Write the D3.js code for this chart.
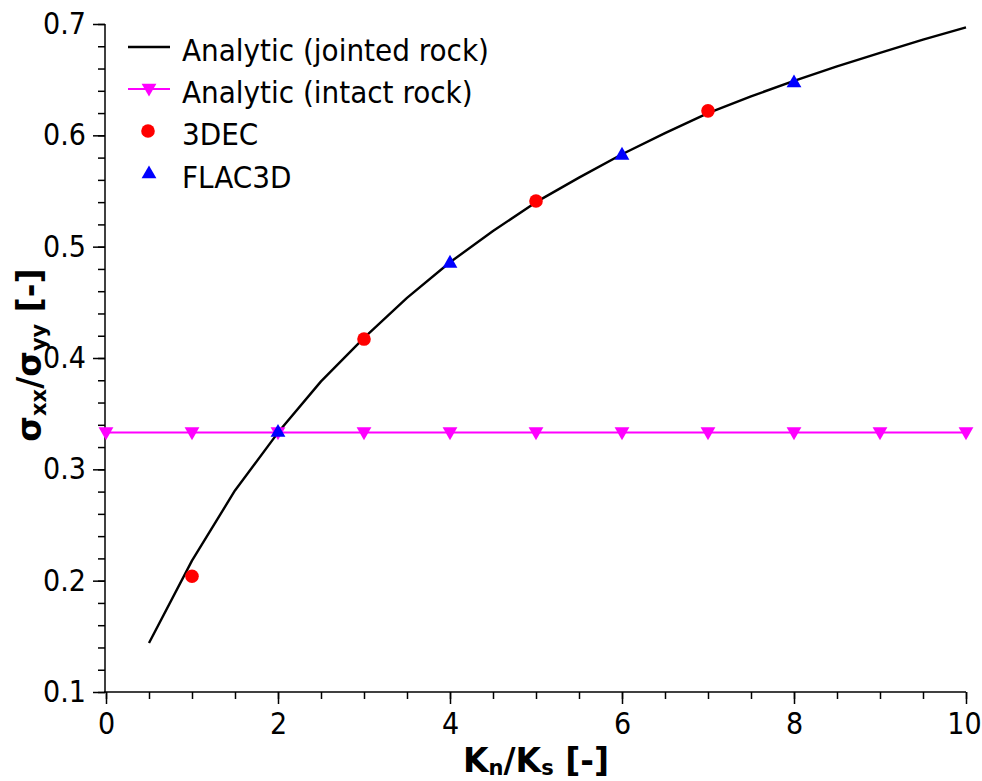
<!DOCTYPE html>
<html lang="en">
  <head>
    <meta charset="UTF-8" />
    <title>sxx/syy vs Kn/Ks</title>
    <style>
      body { margin: 0; background: #fff; }
      svg text { font-family: "DejaVu Sans Condensed", "DejaVu Sans", sans-serif; font-stretch: condensed; }
      svg text.title { font-family: "DejaVu Sans", sans-serif; font-stretch: normal; }
    </style>
  </head>
  <body>
    <script src="https://d3js.org/d3.v7.min.js"></script>
    <script>
      const width = 982
      const height = 781

      // analytic curve, jointed rock
      const jointX = [0.5, 1, 1.5, 2, 2.5, 3, 3.5, 4, 4.5, 5, 5.5, 6, 6.5, 7, 7.5, 8, 8.5, 9, 9.5, 10]
      const jointY = [0.144, 0.218, 0.281, 0.333, 0.379, 0.418, 0.454, 0.486, 0.514, 0.540,
                      0.562, 0.583, 0.602, 0.620, 0.635, 0.649, 0.662, 0.674, 0.686, 0.697]
      // analytic, intact rock
      const intactX = [0, 1, 2, 3, 4, 5, 6, 7, 8, 9, 10]
      const intactY = [0.333, 0.333, 0.333, 0.333, 0.333, 0.333, 0.333, 0.333, 0.333, 0.333, 0.333]
      // numerical results
      const decX = [1, 3, 5, 7]
      const decY = [0.204, 0.417, 0.541, 0.622]
      const flacX = [2, 4, 6, 8]
      const flacY = [0.333, 0.485, 0.582, 0.647]

      const xTicks = [0, 2, 4, 6, 8, 10]
      const yTicks = [0.1, 0.2, 0.3, 0.4, 0.5, 0.6, 0.7]
      const legendNames = ["Analytic (jointed rock)", "Analytic (intact rock)", "3DEC", "FLAC3D"]

      const svg = d3.select("body").append("svg")
        .attr("width", width)
        .attr("height", height)

      const x = d3.scaleLinear().domain([0, 10]).range([106, 966])
      const y = d3.scaleLinear().domain([0.1, 0.7]).range([692, 24])

      const xMinor = d3.range(0, 10.01, 0.5)
      const yMinor = d3.range(0.1, 0.701, 0.02)

      // minor ticks
      svg.append("g")
        .attr("transform", "translate(0,692)")
        .call(d3.axisBottom(x).tickValues(xMinor).tickSize(7).tickFormat(""))
      svg.append("g")
        .attr("transform", "translate(105,0)")
        .call(d3.axisLeft(y).tickValues(yMinor).tickSize(7).tickFormat(""))

      // major ticks + labels
      const gx = svg.append("g")
        .attr("transform", "translate(0,692)")
        .call(d3.axisBottom(x).tickValues(xTicks).tickSize(12).tickPadding(9).tickFormat(d3.format("d")))
      svg.append("g")
        .attr("transform", "translate(105,0)")
        .call(d3.axisLeft(y).tickValues(yTicks).tickSize(12).tickPadding(7).tickFormat(d3.format(".1f")))

      svg.selectAll(".domain").remove()
      svg.selectAll(".tick line").attr("stroke", "#000").attr("stroke-width", 1.5)
      svg.selectAll(".tick text").attr("font-size", 30).attr("fill", "#000")
        .style("font-family", null)
      // last x label sits at the page edge
      gx.selectAll(".tick text").filter(d => d === 10).attr("dx", -2)

      // axis lines
      svg.append("line").attr("x1", 105).attr("x2", 105).attr("y1", y(0.7)).attr("y2", 693)
        .attr("stroke", "#000").attr("stroke-width", 1.5)
      svg.append("line").attr("x1", 104).attr("x2", x(10)).attr("y1", 692).attr("y2", 692)
        .attr("stroke", "#000").attr("stroke-width", 1.5)

      // lines
      const line = d3.line().x(d => x(d[0])).y(d => y(d[1]))
      svg.append("path")
        .datum(intactX.map((d, i) => [d, intactY[i]]))
        .attr("d", line).attr("fill", "none")
        .attr("stroke", "#ff00ff").attr("stroke-width", 2)
      svg.append("path")
        .datum(jointX.map((d, i) => [d, jointY[i]]))
        .attr("d", line).attr("fill", "none")
        .attr("stroke", "#000").attr("stroke-width", 2.4).attr("stroke-linejoin", "round")

      const tri = d3.symbol().type(d3.symbolTriangle).size(95)

      svg.selectAll(".intact")
        .data(intactX)
        .enter().append("path")
        .attr("d", tri)
        .attr("transform", (d, i) => `translate(${x(d)},${y(intactY[i]) - 1}) rotate(180)`)
        .attr("fill", "#ff00ff")

      svg.selectAll(".dec")
        .data(decX)
        .enter().append("circle")
        .attr("cx", d => x(d))
        .attr("cy", (d, i) => y(decY[i]))
        .attr("r", 6.8)
        .attr("fill", "#ff0000")

      svg.selectAll(".flac")
        .data(flacX)
        .enter().append("path")
        .attr("d", tri)
        .attr("transform", (d, i) => `translate(${x(d)},${y(flacY[i])})`)
        .attr("fill", "#0000ff")

      // legend
      const leg = svg.append("g")
      const rows = [47, 89, 131, 174]
      leg.selectAll("text")
        .data(legendNames)
        .enter().append("text")
        .attr("x", 182)
        .attr("y", (d, i) => rows[i] + 14)
        .attr("font-size", 31)
        .text(d => d)
      leg.append("line").attr("x1", 128).attr("x2", 170).attr("y1", rows[0]).attr("y2", rows[0])
        .attr("stroke", "#000").attr("stroke-width", 2.4)
      leg.append("line").attr("x1", 128).attr("x2", 170).attr("y1", rows[1]).attr("y2", rows[1])
        .attr("stroke", "#ff00ff").attr("stroke-width", 2)
      leg.append("path").attr("d", tri)
        .attr("transform", `translate(149,${rows[1] - 1}) rotate(180)`).attr("fill", "#ff00ff")
      leg.append("circle").attr("cx", 148).attr("cy", rows[2]).attr("r", 6.8).attr("fill", "#ff0000")
      leg.append("path").attr("d", tri)
        .attr("transform", `translate(149,${rows[3]})`).attr("fill", "#0000ff")

      // axis titles
      const xt = svg.append("text").attr("class", "title")
        .attr("x", 536).attr("y", 772)
        .attr("text-anchor", "middle")
        .attr("font-size", 33).attr("font-weight", "bold")
      xt.append("tspan").text("K")
      xt.append("tspan").attr("font-size", 21).attr("dy", 3).text("n")
      xt.append("tspan").attr("dy", -3).text("/K")
      xt.append("tspan").attr("font-size", 21).attr("dy", 3).text("s")
      xt.append("tspan").attr("dy", -3).text(" [-]")

      const yt = svg.append("text").attr("class", "title")
        .attr("transform", "translate(41,355) rotate(-90)")
        .attr("text-anchor", "middle")
        .attr("font-size", 33).attr("font-weight", "bold")
      yt.append("tspan").text("σ")
      yt.append("tspan").attr("font-size", 21).attr("dy", 5).text("xx")
      yt.append("tspan").attr("dy", -5).text("/σ")
      yt.append("tspan").attr("font-size", 21).attr("dy", 5).text("yy")
      yt.append("tspan").attr("dy", -5).text(" [-]")
    </script>
  </body>
</html>
